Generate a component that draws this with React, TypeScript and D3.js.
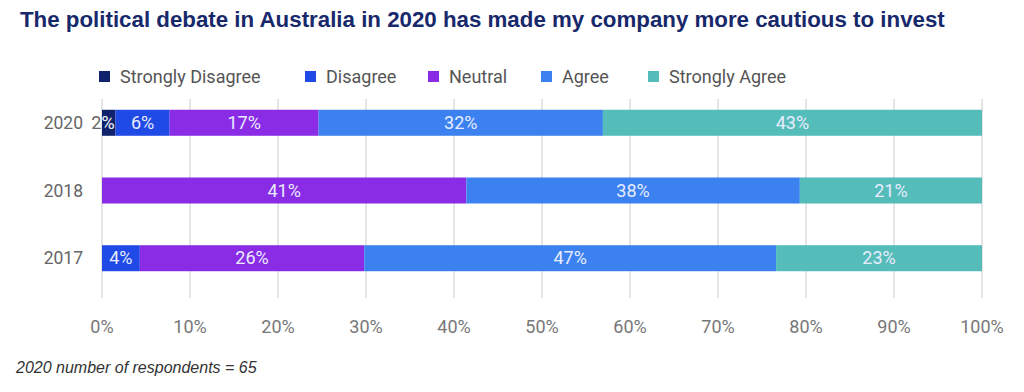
import React from 'react';
import * as d3 from 'd3';

const years = ['2020', '2018', '2017'];
const categories = ['Strongly Disagree', 'Disagree', 'Neutral', 'Agree', 'Strongly Agree'];
const colors = ['#0f226b', '#1f4ae6', '#8a2be6', '#3b82f0', '#55bdb9'];
// share of respondents per year, in category order
const values2020 = [1.54, 6.15, 16.92, 32.31, 43.08];
const values2018 = [0, 0, 41.4, 37.9, 20.7];
const values2017 = [0, 4.3, 25.5, 46.8, 23.4];
const xTicks = [0, 10, 20, 30, 40, 50, 60, 70, 80, 90, 100];

const width = 1024;
const height = 392;

const App: React.FC = () => {
  const rows = [values2020, values2018, values2017];
  const x = d3.scaleLinear().domain([0, 100]).range([102, 982]);
  const y = d3
    .scaleBand<string>()
    .domain(years)
    .range([103, 278])
    .paddingInner(0.616)
    .paddingOuter(0.1);

  const stacked = rows.map(vals => {
    let acc = 0;
    return vals.map((v, i) => {
      const seg = { key: categories[i], x0: acc, x1: acc + v, v, color: colors[i] };
      acc += v;
      return seg;
    });
  });

  const font = 'Roboto, "Liberation Sans", sans-serif';
  const legendX = [99, 305, 428, 541, 648];

  return (
    <svg width={width} height={height} style={{ position: 'absolute', left: 0, top: 0 }}>
      <rect width={width} height={height} fill="#fff" />
      <text x={20} y={27} fontFamily='"Liberation Sans", Arial, sans-serif' fontWeight="bold" fontSize={22.3} fill="#17286b">
        The political debate in Australia in 2020 has made my company more cautious to invest
      </text>

      {categories.map((c, i) => (
        <g key={c} transform={`translate(${legendX[i]},77)`}>
          <rect x={0} y={-6} width={11} height={11} fill={colors[i]} />
          <text x={21} y={6} fontFamily={font} fontSize={18} fill="#555">{c}</text>
        </g>
      ))}

      {xTicks.map(t => (
        <g key={t}>
          <line x1={x(t)} x2={x(t)} y1={99} y2={298} stroke="#dcdcdc" strokeWidth={1.5} />
          <text x={x(t)} y={333} textAnchor="middle" fontFamily={font} fontSize={18} fill="#777">{t}%</text>
        </g>
      ))}

      {years.map((yr, r) => {
        const y0 = y(yr)!;
        const bh = y.bandwidth();
        return (
          <g key={yr}>
            <text x={83} y={y0 + bh / 2 + 6} textAnchor="end" fontFamily={font} fontSize={17.5} fill="#666">{yr}</text>
            <defs>
              {stacked[r].map((s, i) => (
                <clipPath key={i} id={`clip-${r}-${i}`}>
                  <rect x={x(s.x0)} y={y0} width={x(s.x1) - x(s.x0)} height={bh} />
                </clipPath>
              ))}
            </defs>
            {stacked[r].filter(s => s.v > 0).map(s => (
              <rect key={s.key} x={x(s.x0)} y={y0} width={x(s.x1) - x(s.x0)} height={bh} fill={s.color} />
            ))}
            {stacked[r].map((s, i) => {
              if (s.v <= 0) return null;
              const w = x(s.x1) - x(s.x0);
              const small = w < 22;
              const cx = small ? x(s.x0) + 1 : (x(s.x0) + x(s.x1)) / 2;
              const label = `${Math.round(s.v)}%`;
              return (
                <g key={`l${i}`}>
                  {small && (
                    <text x={cx} y={y0 + bh / 2 + 6} textAnchor="middle" fontFamily={font} fontSize={18} fill="#666">{label}</text>
                  )}
                  <text
                    x={cx}
                    y={y0 + bh / 2 + 6}
                    textAnchor="middle"
                    fontFamily={font}
                    fontSize={18}
                    fill="#e8ecff"
                    clipPath={small ? `url(#clip-${r}-${i})` : undefined}
                  >
                    {label}
                  </text>
                </g>
              );
            })}
          </g>
        );
      })}

      <text x={16} y={373} fontFamily='"Liberation Sans", Arial, sans-serif' fontStyle="italic" fontSize={16} fill="#333">
        2020 number of respondents = 65
      </text>
    </svg>
  );
};

export default App;
